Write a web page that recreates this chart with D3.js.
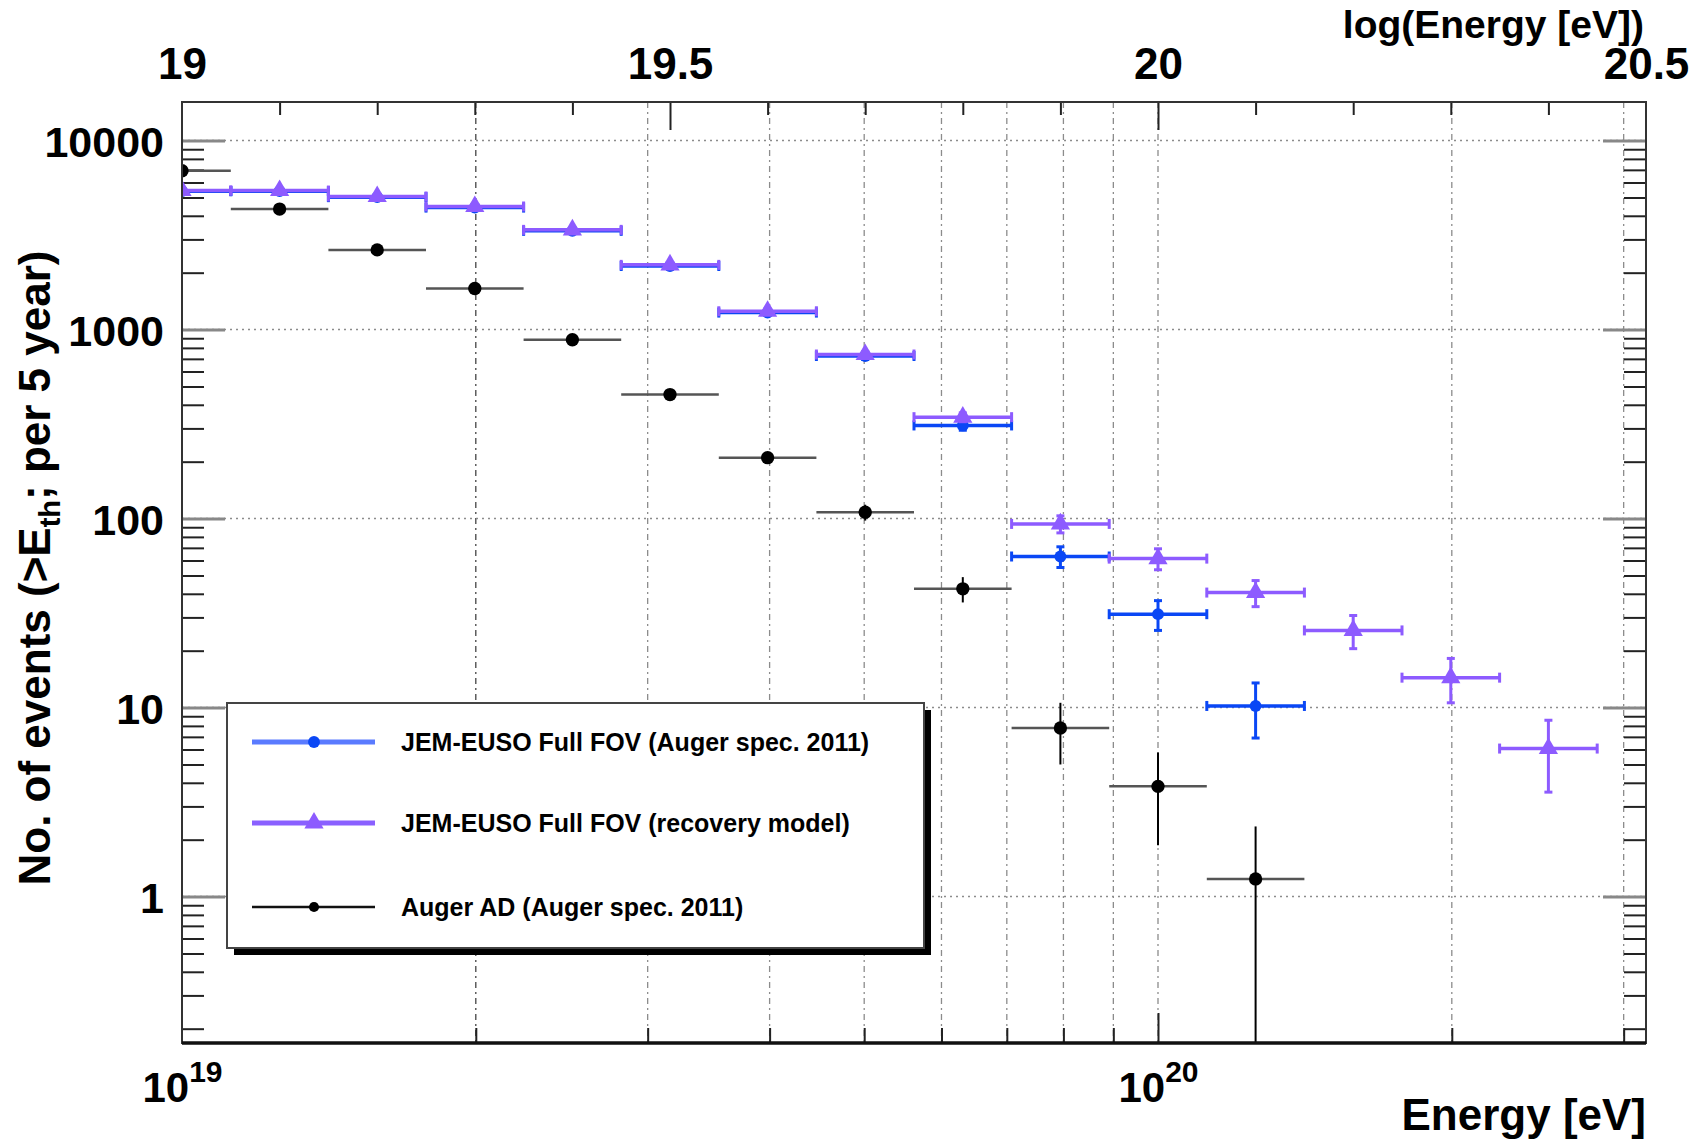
<!DOCTYPE html>
<html><head><meta charset="utf-8">
<script src="https://cdn.jsdelivr.net/npm/d3@7"></script>
<style>
body{margin:0;background:#fff}
svg{display:block}
text{font-family:"Liberation Sans",Arial,Helvetica,sans-serif;font-weight:bold;fill:#000}
</style></head>
<body>
<svg id="chart" width="1696" height="1142"></svg>
<script>
// ---------------- data ----------------
const binHalfWidth = 0.05;

const jemAugerLogE = [19.0,19.1,19.2,19.3,19.4,19.5,19.6,19.7,19.8,19.9,20.0,20.1];
const jemAugerN    = [5400,5400,5020,4420,3330,2170,1230,725,311,63.0,31.2,10.2];
const jemAugerErr  = [73.5,73.5,70.9,66.5,57.7,46.6,35.1,26.9,17.6,7.9,5.6,3.3];

const jemRecoveryLogE = [19.0,19.1,19.2,19.3,19.4,19.5,19.6,19.7,19.8,19.9,20.0,20.1,20.2,20.3,20.4];
const jemRecoveryN    = [5440,5440,5060,4480,3370,2200,1250,738,344,93.7,61.4,40.6,25.6,14.4,6.07];
const jemRecoveryErr  = [73.8,73.8,71.1,66.9,58.1,46.9,35.4,27.2,18.5,9.7,7.8,6.4,5.1,3.8,2.5];

const augerLogE = [19.0,19.1,19.2,19.3,19.4,19.5,19.6,19.7,19.8,19.9,20.0,20.1];
const augerN    = [6920,4340,2640,1650,884,453,210,108,42.5,7.8,3.83,1.24];
const augerErr  = [83.2,65.9,51.4,40.6,29.7,21.3,14.5,10.4,6.5,2.8,1.96,1.11];

const yTickValues = [1,10,100,1000,10000];
const yTickLabels = ["1","10","100","1000","10000"];
const topTickValues = [19,19.5,20,20.5];
const topTickLabels = ["19","19.5","20","20.5"];
const bottomTickValues = [1e19,1e20];
const bottomTickBase = ["10","10"];
const bottomTickExp = ["19","20"];
const seriesNames = ["JEM-EUSO Full FOV (Auger spec. 2011)","JEM-EUSO Full FOV (recovery model)","Auger AD (Auger spec. 2011)"];
const xTitle = "Energy [eV]";
const topTitle = "log(Energy [eV])";

// ---------------- layout ----------------
const L = 182, R = 1646, T = 102, B = 1043;
const svg = d3.select("#chart");
const x = d3.scaleLog().domain([1e19, Math.pow(10,20.5)]).range([L,R]);
const xTop = d3.scaleLinear().domain([19,20.5]).range([L,R]);
const y = d3.scaleLog().domain([0.168,16000]).range([B,T]);

const blue = "#0a47f5", purple = "#8d5bff";

// grid
const vGrid = [];
for (let k=2;k<=9;k++) vGrid.push(k*1e19);
vGrid.push(1e20,2e20,3e20);
const minorYTicks = [];
[0.1,1,10,100,1000].forEach(d=>{for(let k=2;k<=9;k++){const v=k*d; if(v>0.168 && v<16000) minorYTicks.push(v);}});

const grid = svg.append("g");
grid.selectAll("line.vg").data(vGrid).join("line")
  .attr("x1",d=>x(d)).attr("x2",d=>x(d)).attr("y1",T).attr("y2",B)
  .attr("stroke",d=>d===2e19?"#444":"#8c8c8c").attr("stroke-width",1.3).attr("stroke-dasharray","6,4,2,4");
grid.selectAll("line.hg").data(yTickValues).join("line")
  .attr("x1",L).attr("x2",R).attr("y1",d=>y(d)).attr("y2",d=>y(d))
  .attr("stroke","#8c8c8c").attr("stroke-width",1.5).attr("stroke-dasharray","2,4");

// axes ticks
const leftMajor = d3.axisRight(y).tickValues(yTickValues).tickSize(43).tickFormat("");
const leftMinor = d3.axisRight(y).tickValues(minorYTicks).tickSize(22).tickFormat("");
const rightMajor = d3.axisLeft(y).tickValues(yTickValues).tickSize(43).tickFormat("");
const rightMinor = d3.axisLeft(y).tickValues(minorYTicks).tickSize(22).tickFormat("");
function styleTicks(g, color, w){ g.select(".domain").remove(); g.selectAll(".tick line").attr("stroke",color).attr("stroke-width",w); }
svg.append("g").attr("transform",`translate(${L},0)`).call(leftMajor).call(g=>styleTicks(g,"#888",3));
svg.append("g").attr("transform",`translate(${L},0)`).call(leftMinor).call(g=>styleTicks(g,"#222",2));
svg.append("g").attr("transform",`translate(${R},0)`).call(rightMajor).call(g=>styleTicks(g,"#888",3));
svg.append("g").attr("transform",`translate(${R},0)`).call(rightMinor).call(g=>styleTicks(g,"#222",2));

const topMinorVals = d3.range(19.1,20.45,0.1).map(v=>Math.round(v*10)/10).filter(v=>v!==19.5 && v!==20);
svg.append("g").attr("transform",`translate(0,${T})`).call(d3.axisBottom(xTop).tickValues(topMinorVals).tickSize(13).tickFormat("")).call(g=>styleTicks(g,"#222",2));
svg.append("g").attr("transform",`translate(0,${T})`).call(d3.axisBottom(xTop).tickValues([19.5,20]).tickSize(28).tickFormat("")).call(g=>styleTicks(g,"#222",2));

const botMinor = vGrid.filter(v=>v!==1e20);
svg.append("g").attr("transform",`translate(0,${B})`).call(d3.axisTop(x).tickValues(botMinor).tickSize(15).tickFormat("")).call(g=>styleTicks(g,"#222",2));
svg.append("g").attr("transform",`translate(0,${B})`).call(d3.axisTop(x).tickValues([1e20]).tickSize(30).tickFormat("")).call(g=>styleTicks(g,"#222",2));

// labels
const yLab = svg.append("g").attr("transform",`translate(${L},0)`)
  .call(d3.axisLeft(y).tickValues(yTickValues).tickSize(0).tickPadding(18).tickFormat((d,i)=>yTickLabels[i]));
yLab.select(".domain").remove();
yLab.selectAll("text").attr("font-size",43).attr("font-family","Liberation Sans, Arial, sans-serif").attr("font-weight","bold").attr("fill","#000").attr("dy","0.36em");

const tLab = svg.append("g").attr("transform",`translate(0,${T})`)
  .call(d3.axisTop(xTop).tickValues(topTickValues).tickSize(0).tickPadding(23).tickFormat((d,i)=>topTickLabels[i]));
tLab.select(".domain").remove();
tLab.selectAll("text").attr("font-size",44).attr("font-family","Liberation Sans, Arial, sans-serif").attr("font-weight","bold").attr("fill","#000");

const bLab = svg.append("g").attr("transform",`translate(0,${B})`)
  .call(d3.axisBottom(x).tickValues(bottomTickValues).tickSize(0).tickPadding(0).tickFormat(""));
bLab.select(".domain").remove();
bLab.selectAll(".tick text").each(function(d,i){
  const t = d3.select(this).attr("y",59).attr("dy",null).attr("font-family","Liberation Sans, Arial, sans-serif").attr("font-weight","bold").attr("fill","#000").attr("text-anchor","middle");
  t.append("tspan").attr("font-size",42).text(bottomTickBase[i]);
  t.append("tspan").attr("font-size",30).attr("dy",-20).text(bottomTickExp[i]);
});

svg.append("text").attr("x",R).attr("y",1130).attr("text-anchor","end").attr("font-size",44).text(xTitle);
svg.append("text").attr("x",R-2).attr("y",38).attr("text-anchor","end").attr("font-size",39).text(topTitle);

const yt = svg.append("text").attr("transform","translate(50,568) rotate(-90)").attr("text-anchor","middle").attr("font-size",44);
yt.append("tspan").text("No. of events (>E");
yt.append("tspan").attr("font-size",29).attr("dy",10).text("th");
yt.append("tspan").attr("dy",-10).text("; per 5 year)");

// ---------------- data marks ----------------
svg.append("clipPath").attr("id","plotclip").append("rect").attr("x",L).attr("y",T).attr("width",R-L).attr("height",B-T);
const plot = svg.append("g").attr("clip-path","url(#plotclip)");

function drawSeries(logE, vals, errs, opt){
  const g = plot.append("g");
  const data = logE.map((e,i)=>({e, v:vals[i], err:errs[i]}));
  const xl = d=>x(Math.pow(10,d.e-binHalfWidth)), xr = d=>x(Math.pow(10,d.e+binHalfWidth)), xc = d=>x(Math.pow(10,d.e));
  const ylo = d=> d.v-d.err>0 ? y(d.v-d.err) : B+5;
  g.selectAll("line.h").data(data).join("line").attr("x1",xl).attr("x2",xr).attr("y1",d=>y(d.v)).attr("y2",d=>y(d.v))
    .attr("stroke",opt.hColor).attr("stroke-width",opt.hw);
  g.selectAll("line.v").data(data).join("line").attr("x1",xc).attr("x2",xc).attr("y1",d=>y(d.v+d.err)).attr("y2",ylo)
    .attr("stroke",opt.vColor).attr("stroke-width",opt.vw);
  if (opt.caps){
    g.selectAll("line.cl").data(data).join("line").attr("x1",xl).attr("x2",xl).attr("y1",d=>y(d.v)-5).attr("y2",d=>y(d.v)+5).attr("stroke",opt.hColor).attr("stroke-width",3);
    g.selectAll("line.cr").data(data).join("line").attr("x1",xr).attr("x2",xr).attr("y1",d=>y(d.v)-5).attr("y2",d=>y(d.v)+5).attr("stroke",opt.hColor).attr("stroke-width",3);
    g.selectAll("line.ct").data(data).join("line").attr("x1",d=>xc(d)-4).attr("x2",d=>xc(d)+4).attr("y1",d=>y(d.v+d.err)).attr("y2",d=>y(d.v+d.err)).attr("stroke",opt.vColor).attr("stroke-width",3);
    g.selectAll("line.cb").data(data).join("line").attr("x1",d=>xc(d)-4).attr("x2",d=>xc(d)+4).attr("y1",ylo).attr("y2",ylo).attr("stroke",opt.vColor).attr("stroke-width",3);
  }
  g.selectAll("path.m").data(data).join("path").attr("transform",d=>`translate(${xc(d)},${y(d.v)})`)
    .attr("d",d3.symbol().type(opt.symbol).size(opt.size)).attr("fill",opt.mColor);
}

drawSeries(augerLogE, augerN, augerErr, {hColor:"#555",vColor:"#000",hw:2.5,vw:2,caps:false,symbol:d3.symbolCircle,size:140,mColor:"#000"});
drawSeries(jemAugerLogE, jemAugerN, jemAugerErr, {hColor:blue,vColor:blue,hw:3.5,vw:3,caps:true,symbol:d3.symbolCircle,size:110,mColor:blue});
drawSeries(jemRecoveryLogE, jemRecoveryN, jemRecoveryErr, {hColor:purple,vColor:purple,hw:3.5,vw:3,caps:true,symbol:d3.symbolTriangle,size:160,mColor:purple});

// frame
svg.append("rect").attr("x",L).attr("y",T).attr("width",R-L).attr("height",B-T).attr("fill","none").attr("stroke","#333").attr("stroke-width",2);
svg.append("line").attr("x1",L).attr("x2",R).attr("y1",B).attr("y2",B).attr("stroke","#111").attr("stroke-width",3.5);

// ---------------- legend ----------------
const lg = svg.append("g");
const lx = 227, ly = 703, lw = 697, lh = 245;
lg.append("rect").attr("x",lx+7).attr("y",ly+7).attr("width",lw).attr("height",lh).attr("fill","#000");
lg.append("rect").attr("x",lx).attr("y",ly).attr("width",lw).attr("height",lh).attr("fill","#fff").attr("stroke","#444").attr("stroke-width",2);
const legendRows = [
  {name:seriesNames[0], color:"#5a7bff", mcolor:blue, symbol:d3.symbolCircle, size:110, w:5},
  {name:seriesNames[1], color:"#8a60ff", mcolor:purple, symbol:d3.symbolTriangle, size:160, w:5},
  {name:seriesNames[2], color:"#111", mcolor:"#000", symbol:d3.symbolCircle, size:80, w:2.5}
];
const rowY = [742, 823, 907];
legendRows.forEach((r,i)=>{
  lg.append("line").attr("x1",252).attr("x2",375).attr("y1",rowY[i]).attr("y2",rowY[i]).attr("stroke",r.color).attr("stroke-width",r.w);
  lg.append("path").attr("transform",`translate(314,${rowY[i]})`).attr("d",d3.symbol().type(r.symbol).size(r.size)).attr("fill",r.mcolor);
  lg.append("text").attr("x",401).attr("y",rowY[i]).attr("dy","0.35em").attr("font-size",25).text(r.name);
});
</script>
</body></html>
